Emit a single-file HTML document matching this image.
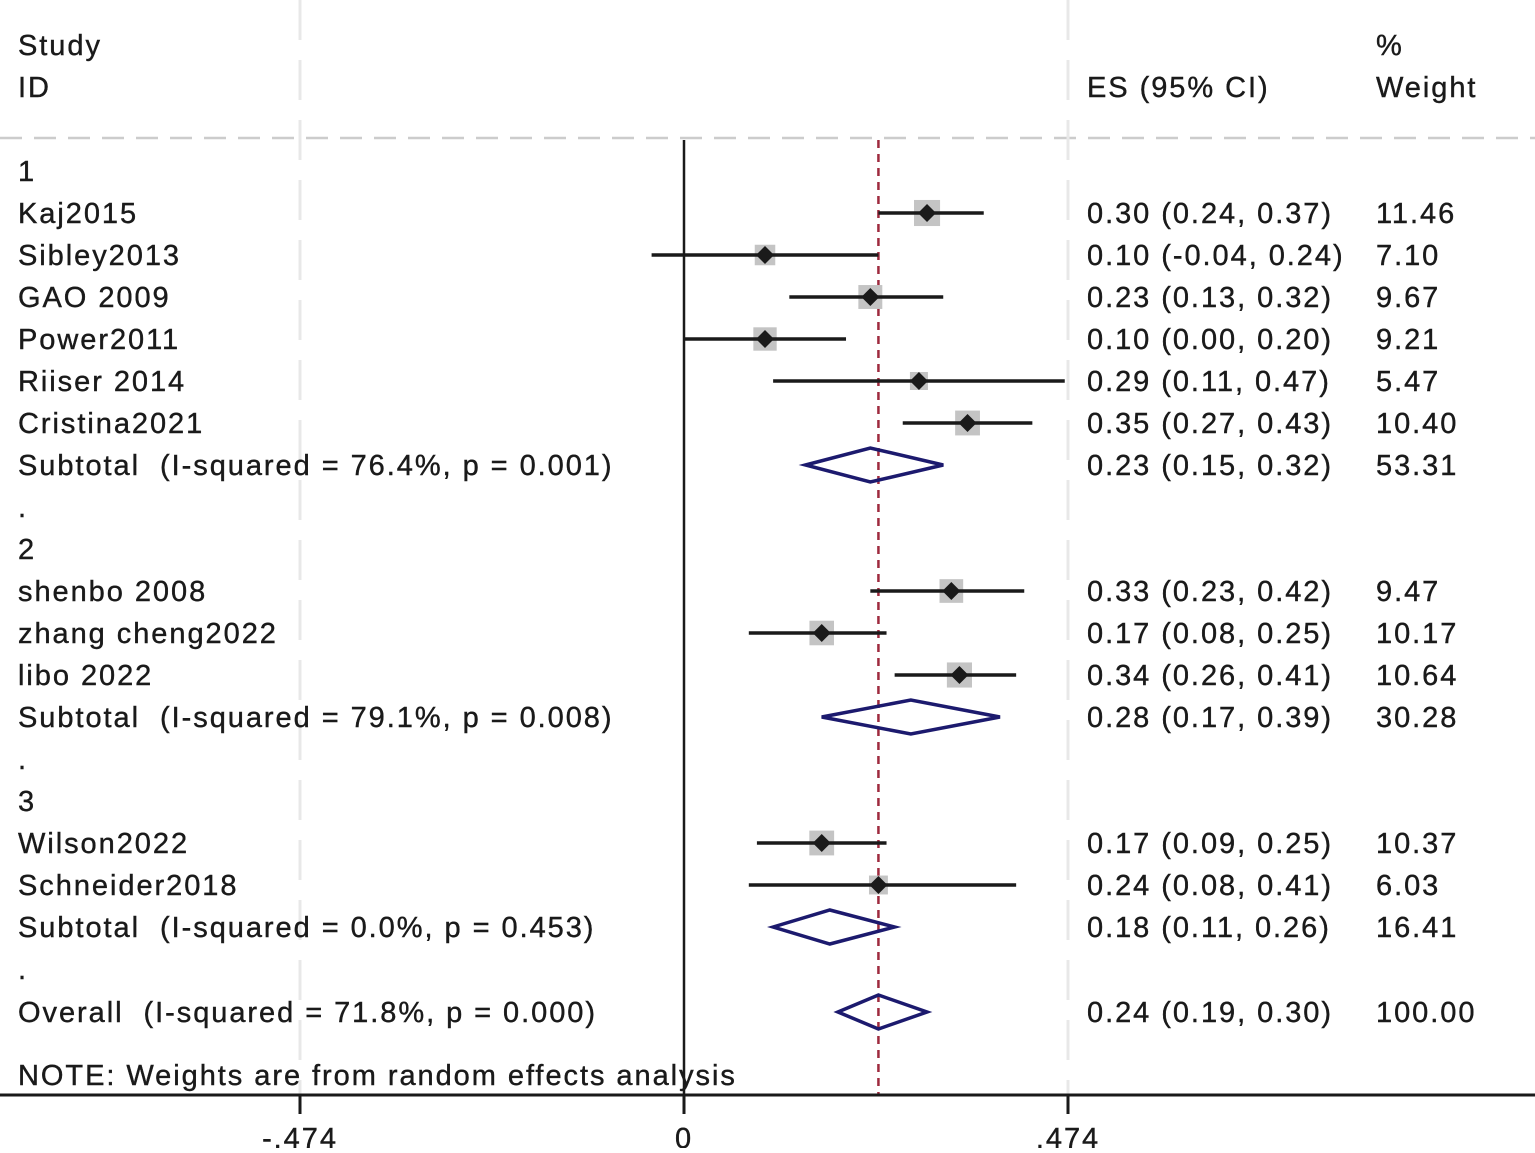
<!DOCTYPE html>
<html><head><meta charset="utf-8"><style>
html,body{margin:0;padding:0;background:#fff;}
svg text{font-family:"Liberation Sans",Arial,sans-serif;font-size:29px;letter-spacing:1.95px;fill:#1a1a1a;stroke:#1a1a1a;stroke-width:0.4px;white-space:pre;}
</style></head><body>
<svg id="chart" width="1535" height="1148" xmlns="http://www.w3.org/2000/svg" xml:space="preserve">
<g id="grid"></g>
<g id="labels"></g>
<g id="marks"></g>
</svg>
<script>
const rowLabels = ["1","Kaj2015","Sibley2013","GAO 2009","Power2011","Riiser 2014","Cristina2021","Subtotal  (I-squared = 76.4%, p = 0.001)",".","2","shenbo 2008","zhang cheng2022","libo 2022","Subtotal  (I-squared = 79.1%, p = 0.008)",".","3","Wilson2022","Schneider2018","Subtotal  (I-squared = 0.0%, p = 0.453)",".","Overall  (I-squared = 71.8%, p = 0.000)"];
const rowType = ["h","s","s","s","s","s","s","d","h","h","s","s","s","d","h","h","s","s","d","h","d"];
const es = [null,0.30,0.10,0.23,0.10,0.29,0.35,0.23,null,null,0.33,0.17,0.34,0.28,null,null,0.17,0.24,0.18,null,0.24];
const lo = [null,0.24,-0.04,0.13,0.00,0.11,0.27,0.15,null,null,0.23,0.08,0.26,0.17,null,null,0.09,0.08,0.11,null,0.19];
const hi = [null,0.37,0.24,0.32,0.20,0.47,0.43,0.32,null,null,0.42,0.25,0.41,0.39,null,null,0.25,0.41,0.26,null,0.30];
const weights = [null,11.46,7.10,9.67,9.21,5.47,10.40,53.31,null,null,9.47,10.17,10.64,30.28,null,null,10.37,6.03,16.41,null,100.00];
const ticks = [-0.474,0,0.474];
const tickLabels = ["-.474","0",".474"];
const overallES = 0.24;

const NS="http://www.w3.org/2000/svg";
const X = v => 684 + v*(384/0.474);
function mk(tag,attrs,parent,text){const e=document.createElementNS(NS,tag);for(const k in attrs)e.setAttribute(k,attrs[k]);if(text!==undefined)e.textContent=text;document.getElementById(parent).appendChild(e);return e;}
function rowY(i){return i===20?1012:171+i*42;}

let t;
t=mk('text',{x:18,y:55},'labels','Study');
t=mk('text',{x:18,y:97},'labels','ID');
t=mk('text',{x:1087,y:97},'labels','ES (95% CI)');
t=mk('text',{x:1376,y:55},'labels','%');
t=mk('text',{x:1376,y:97},'labels','Weight');

let g;
g=mk('line',{x1:0,y1:138,x2:1535,y2:138,stroke:'#cccccc','stroke-width':2.5,'stroke-dasharray':'22,12'},'grid');

ticks.forEach((v,i)=>{ if(v!==0){ g=mk('line',{x1:X(v),y1:0,x2:X(v),y2:1095,stroke:'#e8e8e8','stroke-width':3,'stroke-dasharray':'40,20'},'grid');
}});
g=mk('line',{x1:X(0),y1:140,x2:X(0),y2:1095,stroke:'#1a1a1a','stroke-width':2.5},'grid');

g=mk('line',{x1:X(overallES),y1:140,x2:X(overallES),y2:1095,stroke:'#9e2a3e','stroke-width':2.5,'stroke-dasharray':'8,6'},'grid');


g=mk('line',{x1:0,y1:1095,x2:1535,y2:1095,stroke:'#1a1a1a','stroke-width':3},'grid');

ticks.forEach((v,i)=>{
  const tk=mk('line',{x1:X(v),y1:1095,x2:X(v),y2:1114,stroke:'#1a1a1a','stroke-width':3},'grid');
  
  const tl=mk('text',{x:X(v),y:1148,'text-anchor':'middle'},'labels',tickLabels[i]);
  
});

rowLabels.forEach((lab,i)=>{
  const y=rowY(i);
  const tl=mk('text',{x:18,y:y+10},'labels',lab);
  
  if(es[i]===null) return;
  const ci=mk('text',{x:1087,y:y+10},'labels',es[i].toFixed(2)+' ('+lo[i].toFixed(2)+', '+hi[i].toFixed(2)+')');
  
  const wt=mk('text',{x:1376,y:y+10},'labels',weights[i].toFixed(2));
  
  if(rowType[i]==='s'){
    const s=7.7*Math.sqrt(weights[i]);
    const sq=mk('rect',{x:X(es[i])-s/2,y:y-s/2,width:s,height:s,fill:'#c4c4c4'},'marks');
    
    const ln=mk('line',{x1:X(lo[i]),y1:y,x2:X(hi[i]),y2:y,stroke:'#1a1a1a','stroke-width':3.5},'marks');
    
    const d=9;
    const pt=mk('polygon',{points:`${X(es[i])-d},${y} ${X(es[i])},${y-d} ${X(es[i])+d},${y} ${X(es[i])},${y+d}`,fill:'#1a1a1a'},'marks');
    
  } else {
    const h=17;
    const dm=mk('polygon',{points:`${X(lo[i])},${y} ${X(es[i])},${y-h} ${X(hi[i])},${y} ${X(es[i])},${y+h}`,fill:'none',stroke:'#1c1a6e','stroke-width':3.5},'marks');
    
  }
});
t=mk('text',{x:18,y:1085},'labels','NOTE: Weights are from random effects analysis');

</script>
</body></html>
